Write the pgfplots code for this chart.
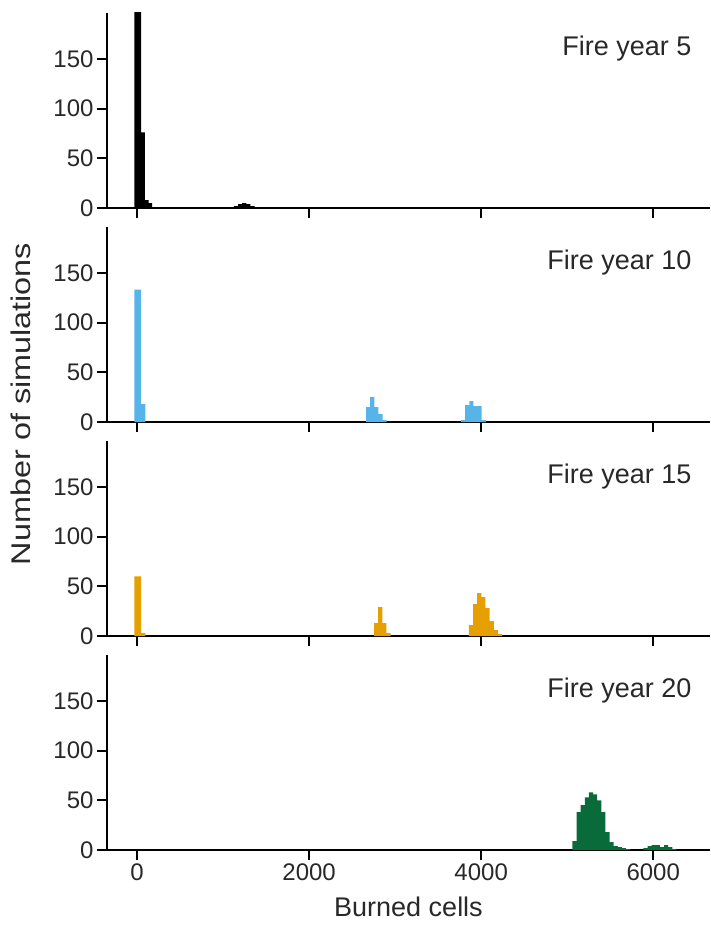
\documentclass[border=0pt]{standalone}
\usepackage{fontspec}
\setmainfont{Liberation Sans}
\usepackage{pgfplots}
\pgfplotsset{compat=1.18}
\definecolor{cblue}{RGB}{86,180,233}
\definecolor{corange}{RGB}{230,159,0}
\definecolor{cgreen}{RGB}{10,107,58}
\definecolor{txt}{RGB}{40,40,40}
\pgfplotsset{
  panel/.style={
    scale only axis, width=603pt, height=195pt,
    xmin=-350, xmax=6660, ymin=0, ymax=196,
    axis x line*=bottom, axis y line*=left,
    axis line style={-, line width=2pt, black},
    xtick={0,2000,4000,6000}, ytick={0,50,100,150},
    tick align=outside, xtick pos=left, ytick pos=left,
    major tick length=10pt,
    tick style={line width=2pt, black},
    ticklabel style={font=\fontsize{24}{28}\selectfont, text=txt},
    /pgf/number format/assume math mode=true,
    /pgf/number format/1000 sep={},
    anchor=north west,
  },
  hbar/.style={ybar, bar width=48, bar shift=0pt, draw=none, fill=#1},
}
\newcommand{\paneltitle}[1]{\node[anchor=east, font=\fontsize{27}{32}\selectfont, text=txt] at (rel axis cs:0.975,0.818) {#1};}
\begin{document}
\begin{tikzpicture}
\useasboundingbox (0,0) rectangle (710pt,-934pt);
% Panel 1
\begin{axis}[panel, at={(107pt,-13pt)}, xticklabels={}]
\addplot[hbar=black] coordinates {(-7,400) (23,400) (67,76) (110,8) (152,5) (200,1)
 (1150,2) (1198,4) (1246,5) (1294,4) (1342,2) (1390,1)};
\paneltitle{Fire year 5}
\end{axis}
% Panel 2
\begin{axis}[panel, at={(107pt,-227pt)}, xticklabels={}]
\addplot[hbar=cblue] coordinates {(-7,133) (23,133) (71,18)
 (2686,15) (2734,25) (2782,15) (2830,8) (2878,2)
 (3790,2) (3838,17) (3886,21) (3934,16) (3982,16) (4030,2)};
\paneltitle{Fire year 10}
\end{axis}
% Panel 3
\begin{axis}[panel, at={(107pt,-441pt)}, xticklabels={}]
\addplot[hbar=corange] coordinates {(-7,60) (23,60) (71,3)
 (2778,13) (2826,29) (2874,13) (2922,3)
 (3882,11) (3930,32) (3978,43) (4026,39) (4074,28) (4122,15) (4170,6) (4218,2)};
\paneltitle{Fire year 15}
\end{axis}
% Panel 4
\begin{axis}[panel, at={(107pt,-655pt)},
  xlabel={Burned cells}, xlabel style={font=\fontsize{27}{32}\selectfont, text=txt, yshift=-10pt}]
\addplot[hbar=cgreen] coordinates {(5084,9) (5132,38) (5180,45) (5228,53) (5276,58) (5324,56)
 (5372,50) (5420,38) (5468,18) (5516,8) (5564,4) (5612,3) (5660,2) (5708,1)
 (5910,2) (5958,4) (6006,5) (6054,5) (6102,3) (6150,5) (6198,3) (6246,1)};
\paneltitle{Fire year 20}
\end{axis}
\node[rotate=90, xscale=1.2, font=\fontsize{27}{32}\selectfont, text=txt] at (21pt,-404pt) {Number of simulations};
\end{tikzpicture}
\end{document}
